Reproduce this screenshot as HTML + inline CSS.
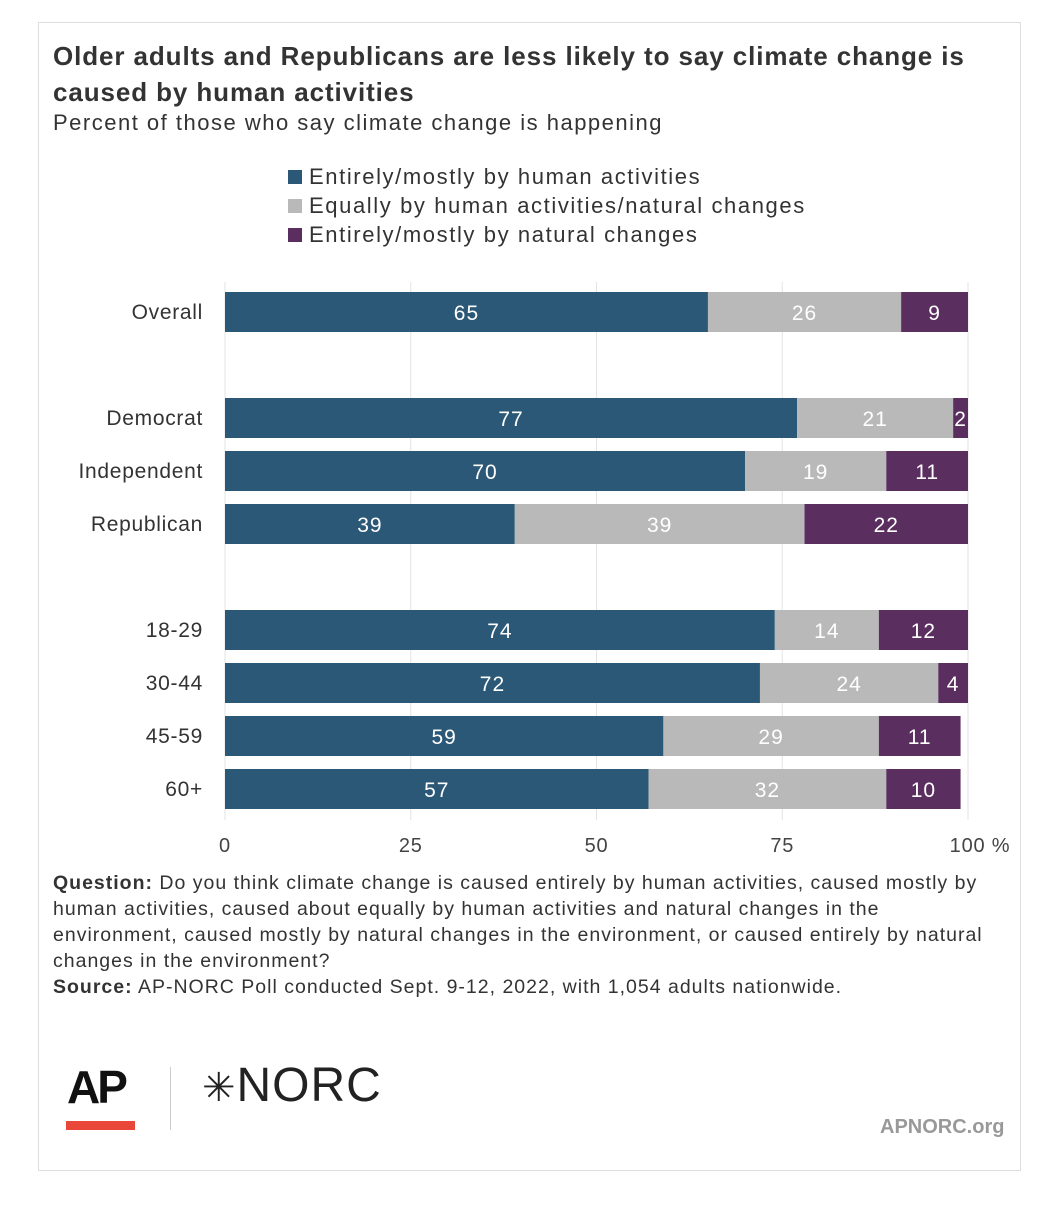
<!DOCTYPE html>
<html><head><meta charset="utf-8"><style>
body{margin:0;background:#fff;width:1056px;height:1208px;position:relative;font-family:"Liberation Sans",Arial,sans-serif;color:#222}
.card{position:absolute;left:38px;top:22px;width:983px;height:1149px;border:1px solid #ddd;box-sizing:border-box}
.abs{position:absolute}
</style></head><body>
<div class="card"></div>
<div class="abs" style="left:53px;top:38px;width:960px;font-size:26px;font-weight:bold;line-height:36px;color:#333;letter-spacing:0.9px">Older adults and Republicans are less likely to say climate change is caused by human activities</div>
<div class="abs" style="left:53px;top:110px;font-size:22px;color:#333;letter-spacing:1.5px">Percent of those who say climate change is happening</div>
<div class="abs" style="left:288px;top:162px;font-size:22px;line-height:29px;color:#333;letter-spacing:1.6px">
<div><span style="display:inline-block;width:14px;height:14px;background:#2c5877;margin-right:7px"></span>Entirely/mostly by human activities</div>
<div><span style="display:inline-block;width:14px;height:14px;background:#b9b9b9;margin-right:7px"></span>Equally by human activities/natural changes</div>
<div><span style="display:inline-block;width:14px;height:14px;background:#5b2e60;margin-right:7px"></span>Entirely/mostly by natural changes</div>
</div>
<svg class="abs" style="left:0;top:0" width="1056" height="870" id="chart"></svg>
<div class="abs" style="left:53px;top:870px;width:948px;font-size:19.5px;line-height:26px;color:#333;letter-spacing:1px"><b>Question:</b> Do you think climate change is caused entirely by human activities, caused mostly by human activities, caused about equally by human activities and natural changes in the environment, caused mostly by natural changes in the environment, or caused entirely by natural changes in the environment?<br><b>Source:</b> AP-NORC Poll conducted Sept. 9-12, 2022, with 1,054 adults nationwide.</div>
<div class="abs" style="left:67px;top:1060px;font-size:46px;font-weight:bold;letter-spacing:-3px;color:#111">AP</div>
<div class="abs" style="left:66px;top:1121px;width:69px;height:9px;background:#e8473a"></div>
<div class="abs" style="left:170px;top:1067px;width:1px;height:63px;background:#ccc"></div>
<div class="abs" style="left:202px;top:1058px;font-size:48px;color:#222;letter-spacing:1px"><span style="font-size:40px;font-weight:100">✳</span>NORC</div>
<div class="abs" style="left:880px;top:1116px;font-size:20px;font-weight:bold;color:#999">APNORC.org</div>
<script>
const categories=["Overall","Democrat","Independent","Republican","18-29","30-44","45-59","60+"];
const rowSlots=[0,2,3,4,6,7,8,9];
const human=[65,77,70,39,74,72,59,57];
const equal=[26,21,19,39,14,24,29,32];
const natural=[9,2,11,22,12,4,11,10];
const ticks=[0,25,50,75,100];
const tickLabels=["0","25","50","75","100 %"];
const NS="http://www.w3.org/2000/svg";
const svg=document.getElementById("chart");
const x=v=>225+v*7.43;
const y=s=>292+s*53;
function mk(tag,attrs,txt){const e=document.createElementNS(NS,tag);for(const k in attrs)e.setAttribute(k,attrs[k]);if(txt!==undefined)e.textContent=txt;svg.appendChild(e);return e;}
ticks.forEach((t,i)=>{
 const g=mk("line",{x1:x(t),x2:x(t),y1:282,y2:820,stroke:"#e3e3e3","stroke-width":1});
 
 
 const l=mk("text",{x:x(t)+(i==4?12:0),y:852,"text-anchor":"middle","font-size":20,fill:"#444","letter-spacing":0.8},tickLabels[i]);
 
 
});
const series=[[human,"#2c5877"],[equal,"#b9b9b9"],[natural,"#5b2e60"]];
categories.forEach((c,i)=>{
 const yy=y(rowSlots[i]);
 const lab=mk("text",{x:203,y:yy+27,"text-anchor":"end","font-size":21,fill:"#333","letter-spacing":0.7},c);
 
 
 let acc=0;
 series.forEach(([arr,col])=>{
  const v=arr[i];
  const r=mk("rect",{x:x(acc),y:yy,width:x(acc+v)-x(acc),height:40,fill:col});
  
  
  const t=mk("text",{x:(x(acc)+x(acc+v))/2,y:yy+28,"text-anchor":"middle","font-size":21,fill:"#fff","letter-spacing":1},v);
  
  
  acc+=v;
 });
});
</script>
</body></html>
